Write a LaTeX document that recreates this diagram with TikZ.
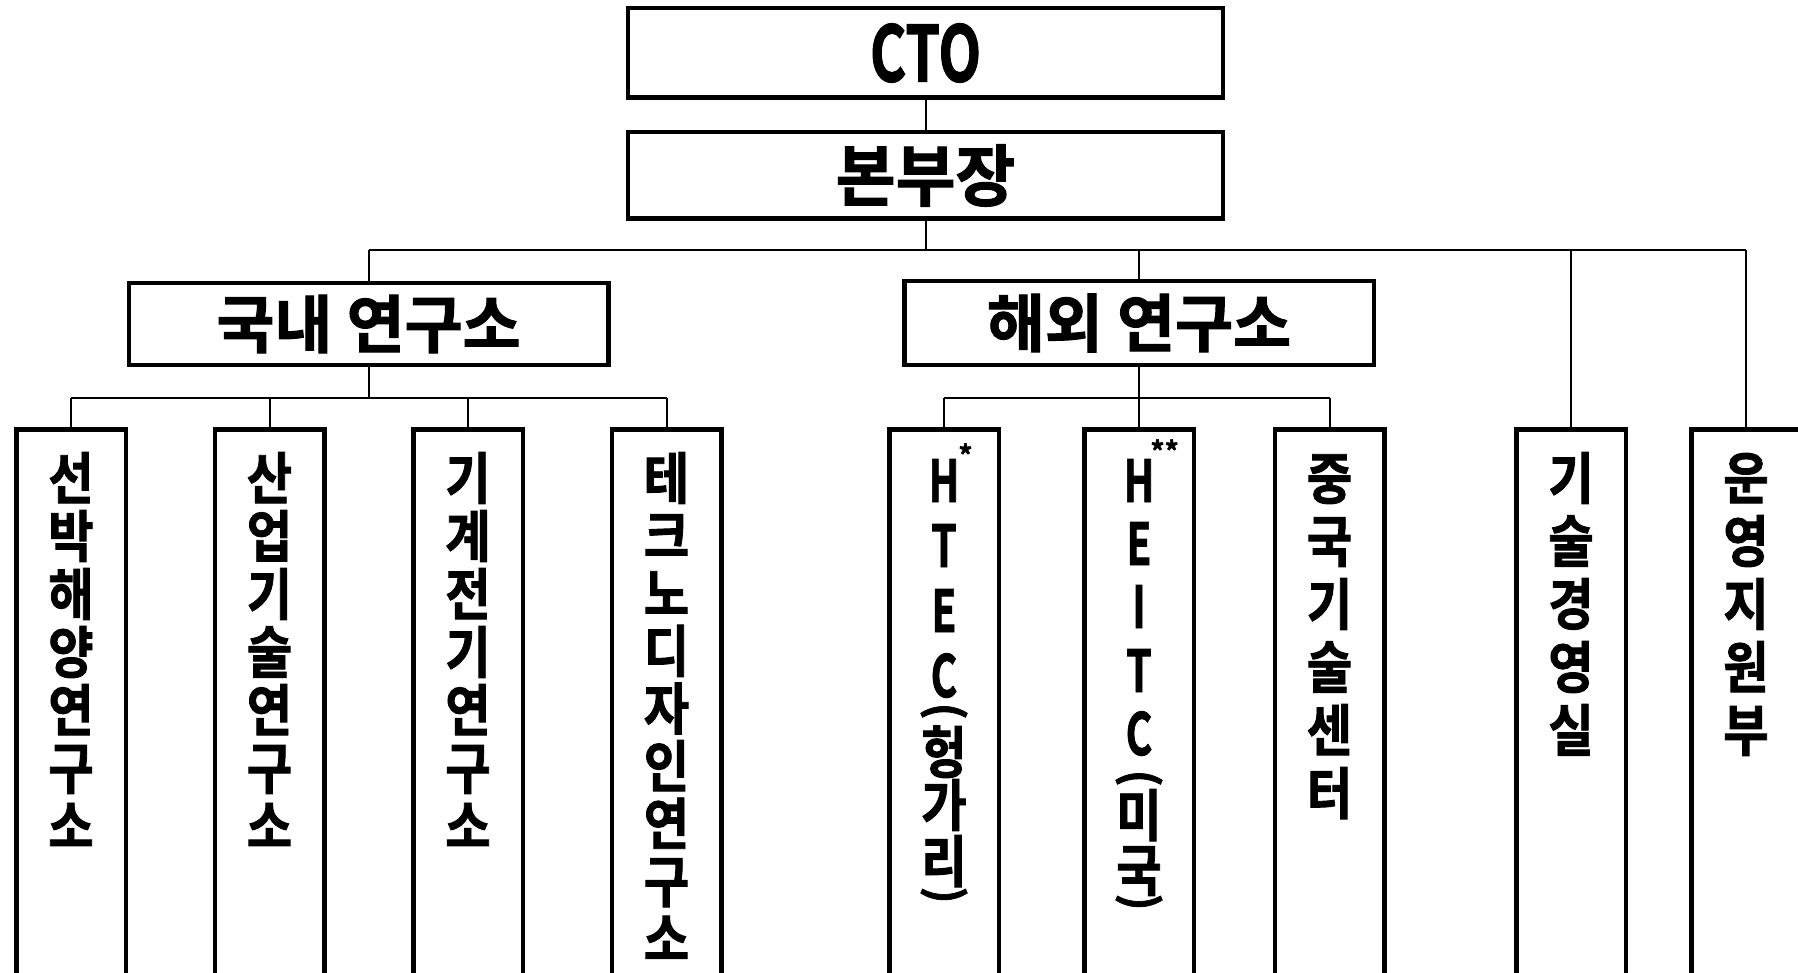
\documentclass[tikz,border=0pt]{standalone}
\usepackage{graphicx}
\usepackage{fontspec}
\newfontfamily\kf{Noto Sans CJK KR Bold}[FakeBold=1.6]
\newcommand\lt[1]{\scalebox{0.7}[1]{#1}}
\newcommand\vk[1]{\scalebox{0.88}[1]{#1}}
\newcommand\rbr[1]{\rotatebox[origin=c]{-90}{#1}}
\begin{document}
\begin{tikzpicture}[x=1pt,y=-1pt,
  box/.style={draw, line width=4.5pt, inner sep=0pt, outer sep=0pt, fill=white, font=\kf},
  conn/.style={draw, line width=2pt},
  vbox/.style={box, anchor=north, minimum width=109.5pt, minimum height=600pt},
  kv/.style={font=\kf\fontsize{56}{56}\selectfont, anchor=base, inner sep=0pt},
  lv/.style={font=\kf\fontsize{58}{58}\selectfont, anchor=base, inner sep=0pt},
  br/.style={font=\kf\fontsize{45}{45}\selectfont, inner sep=0pt},
  big/.style={font=\kf\fontsize{63}{63}\selectfont},
]
\useasboundingbox (0,0) rectangle (1798,973);
\clip (0,0) rectangle (1798,973);
\fill[white] (0,0) rectangle (1798,973);

% top boxes
\node[box, minimum width=595pt, minimum height=89.5pt] (cto) at (925.5,53)
  {\raisebox{-4.5pt}{\fontsize{77}{77}\selectfont\scalebox{0.72}[1]{CTO}}};
\node[box, minimum width=595pt, minimum height=86.5pt] (bon) at (925.5,175.5)
  {\raisebox{-6.5pt}{\fontsize{67}{67}\selectfont\scalebox{0.97}[1]{본부장}}};
\node[box, big, minimum width=479.5pt, minimum height=81.5pt] (dom) at (368.5,324)
  {\raisebox{-4.5pt}{국내 연구소}};
\node[box, big, minimum width=469.5pt, minimum height=83.5pt] (ovs) at (1139,323)
  {\raisebox{-3pt}{해외 연구소}};

% tall boxes
\node[vbox] (d1) at (71,429.25) {};
\node[vbox] (d2) at (269.5,429.25) {};
\node[vbox] (d3) at (468,429.25) {};
\node[vbox] (d4) at (666.5,429.25) {};
\node[vbox] (o1) at (944,429.25) {};
\node[vbox] (o2) at (1139,429.25) {};
\node[vbox] (o3) at (1329.5,429.25) {};
\node[vbox] (tm) at (1571,429.25) {};
\node[vbox] (op) at (1746,429.25) {};

% connectors
\coordinate (bus) at (0,250);
\coordinate (dbus) at (0,398);
\draw[conn] (cto.south) -- (bon.north);
\draw[conn] (bon.south) -- (bon.south |- bus);
\draw[conn] (dom.north |- bus) -- (op.north |- bus);
\foreach \n in {dom,ovs,tm,op} \draw[conn] (\n.north |- bus) -- (\n.north);
\draw[conn] (dom.south) -- (dom.south |- dbus);
\draw[conn] (d1.north |- dbus) -- (d4.north |- dbus);
\foreach \n in {d1,d2,d3,d4} \draw[conn] (\n.north |- dbus) -- (\n.north);
\draw[conn] (ovs.south) -- (ovs.south |- dbus);
\draw[conn] (o1.north |- dbus) -- (o3.north |- dbus);
\foreach \n in {o1,o2,o3} \draw[conn] (\n.north |- dbus) -- (\n.north);

% vertical texts, domestic
\foreach \c [count=\i] in {선,박,해,양,연,구,소}
  \node[kv] (d1c\i) at (71,{499+58*(\i-1)}) {\vk{\c}};
\foreach \c [count=\i] in {산,업,기,술,연,구,소}
  \node[kv] (d2c\i) at (269.5,{499+58*(\i-1)}) {\vk{\c}};
\foreach \c [count=\i] in {기,계,전,기,연,구,소}
  \node[kv] (d3c\i) at (468,{499+58*(\i-1)}) {\vk{\c}};
\foreach \c [count=\i] in {테,크,노,디,자,인,연,구,소}
  \node[kv] (d4c\i) at (666.5,{499+57.6*(\i-1)}) {\vk{\c}};

% HTEC (Hungary)
\node[lv] (o1h) at (944,502) {\lt{H}\rlap{\kern-1pt\raisebox{36pt}{\fontsize{28}{28}\selectfont *}}};
\node[lv] (o1t) at (944,567) {\lt{T}};
\node[lv] (o1e) at (944,632) {\lt{E}};
\node[lv] (o1c) at (944,697) {\lt{C}};
\node[br] (o1l) at (944,714) {\rbr{(}};
\node[kv] (o1k1) at (944,773) {\vk{헝}};
\node[kv] (o1k2) at (944,826) {\vk{가}};
\node[kv] (o1k3) at (944,882) {\vk{리}};
\node[br] (o1r) at (944,898) {\rbr{)}};

% HEITC (USA)
\node[lv] (o2h) at (1139,502) {\lt{H}\rlap{\kern-4pt\raisebox{40pt}{\fontsize{28}{28}\selectfont **}}};
\node[lv] (o2e) at (1139,565) {\lt{E}};
\node[lv] (o2i) at (1139,628) {\lt{I}};
\node[lv] (o2t) at (1139,692) {\lt{T}};
\node[lv] (o2c) at (1139,755) {\lt{C}};
\node[br] (o2l) at (1139,781) {\rbr{(}};
\node[kv] (o2k1) at (1139,836) {\vk{미}};
\node[kv] (o2k2) at (1139,891) {\vk{국}};
\node[br] (o2r) at (1139,905) {\rbr{)}};

% others
\foreach \c [count=\i] in {중,국,기,술,센,터}
  \node[kv] (o3c\i) at (1329.5,{499+63*(\i-1)}) {\vk{\c}};
\foreach \c [count=\i] in {기,술,경,영,실}
  \node[kv] (tmc\i) at (1571,{499+63*(\i-1)}) {\vk{\c}};
\foreach \c [count=\i] in {운,영,지,원,부}
  \node[kv] (opc\i) at (1746,{499+63*(\i-1)}) {\vk{\c}};
\end{tikzpicture}
\end{document}
